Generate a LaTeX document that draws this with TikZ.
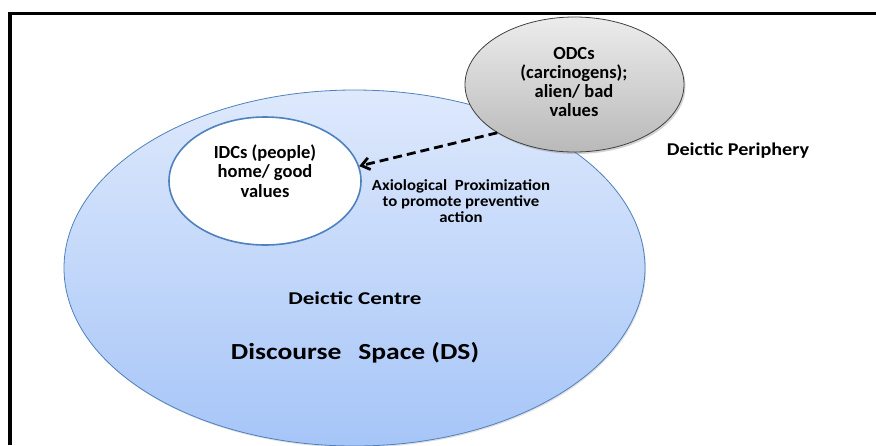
\documentclass[tikz,border=0pt]{standalone}
\usepackage{fontspec}
\setmainfont{Carlito}
\usetikzlibrary{shapes.geometric,shadows,arrows.meta}

\definecolor{dsedge}{RGB}{79,129,189}
\definecolor{dstop}{RGB}{222,233,252}
\definecolor{dsbot}{RGB}{166,197,248}
\definecolor{odctop}{RGB}{236,236,236}
\definecolor{odcbot}{RGB}{185,185,185}

\tikzset{
  space/.style={ellipse, draw=dsedge, line width=0.8pt, top color=dstop, bottom color=dsbot,
    minimum width=581pt, minimum height=356pt, inner sep=0pt,
    drop shadow={opacity=0.25, shadow xshift=1pt, shadow yshift=-1.5pt}},
  homebox/.style={ellipse, draw=dsedge, line width=1.6pt, fill=white,
    minimum width=192pt, minimum height=128pt, inner sep=0pt},
  alienbox/.style={ellipse, draw=black!75, line width=0.8pt, top color=odctop, bottom color=odcbot,
    minimum width=219pt, minimum height=135pt, inner sep=0pt,
    drop shadow={opacity=0.35, shadow xshift=1.5pt, shadow yshift=-2pt}},
  label/.style={align=center, inner sep=0pt, font=\fontsize{18}{19.5}\selectfont\bfseries},
}

\begin{document}
\begin{tikzpicture}[x=1pt,y=-1pt]
\useasboundingbox (0,0) rectangle (876,445);
\clip (0,0) rectangle (876,445);

% frame
\draw[line width=3.2pt] (10,445) |- (876,13.5);

% discourse space
\node[space] (ds) at (354.5,268){};
\node[label, xscale=1.28] (centre) at (355,298){Deictic Centre};
\node[label, xscale=1.2, font=\fontsize{23}{26}\selectfont\bfseries] (dsname) at (355,353){Discourse\hspace{14pt}Space (DS)};

% conceptualizers
\node[homebox] (idc) at (265,181){};
\node[label, font=\fontsize{18.5}{19.5}\selectfont\bfseries] (idctext) at (265,171){IDCs (people)\\home/ good\\values};
\node[alienbox] (odc) at (574.5,84.5){};
\node[label, font=\fontsize{18.5}{19}\selectfont\bfseries] (odctext) at (574,81.5){ODCs\\(carcinogens);\\alien/ bad\\values};

\node[label, xscale=1.12] (periphery) at (738,151){Deictic Periphery};
\node[label, xscale=1.08, font=\fontsize{15.5}{16.2}\selectfont\bfseries] (prox) at (461,201){Axiological\ \ Proximization\\to promote preventive\\action};

\draw[line width=2.8pt, dash pattern=on 9pt off 5pt, -{Straight Barb[length=8pt,width=12pt]}] (odc.212) -- (idc.9);

\end{tikzpicture}
\end{document}
